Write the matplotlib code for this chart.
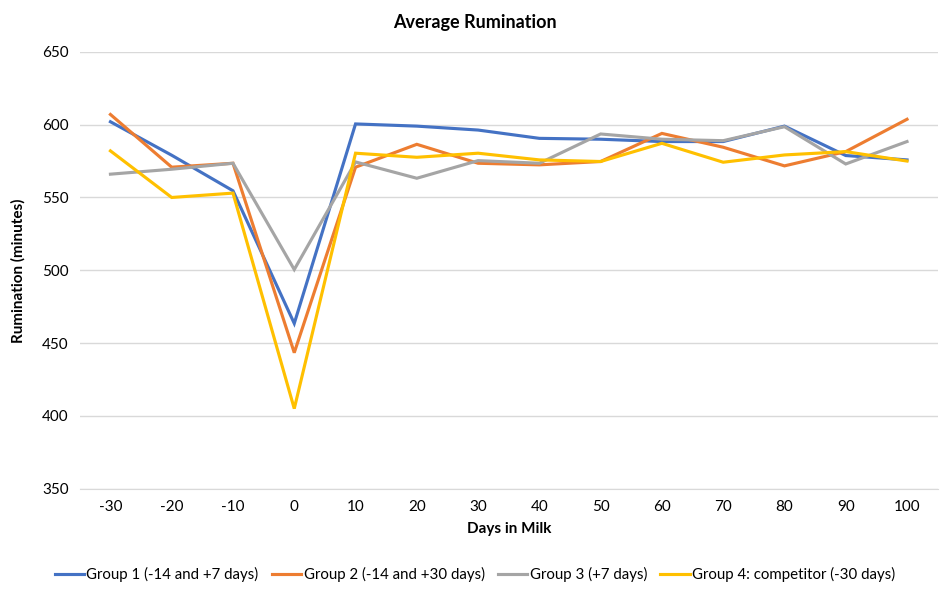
import matplotlib.pyplot as plt

plt.rcParams['font.family'] = ['Lato', 'DejaVu Sans']

days = ["-30", "-20", "-10", "0", "10", "20", "30", "40", "50", "60", "70", "80", "90", "100"]
group1 = [602, 579, 554.6, 463.5, 600.5, 599, 596.3, 590.6, 590, 588.4, 588.4, 599, 578.8, 575.8]
group2 = [607, 570.8, 573.5, 443.4, 570.8, 586.5, 573.5, 572.4, 574.7, 594, 584.5, 571.7, 581.5, 603.7]
group3 = [566, 569.4, 573.5, 500.5, 574.4, 563.2, 575.3, 573.5, 593.6, 590, 589, 598.6, 573, 588.4]
group4 = [582, 550, 553, 405, 580.4, 577.6, 580.4, 575.8, 574.7, 587.2, 574.2, 579.2, 581.5, 575]

labels = ["Group 1 (-14 and +7 days)", "Group 2 (-14 and +30 days)",
          "Group 3 (+7 days)", "Group 4: competitor (-30 days)"]
colors = ["#4472C4", "#ED7D31", "#A5A5A5", "#FFC000"]

fig = plt.figure(figsize=(9.5, 5.96), dpi=100)
ax = fig.add_axes([0.084, 0.18, 0.903, 0.733])

x = list(range(len(days)))
for series, lab, col in zip([group1, group2, group3, group4], labels, colors):
    ax.plot(x, series, color=col, linewidth=2.25, label=lab, solid_joinstyle="miter")

ax.set_xlim(-0.5, len(days) - 0.5)
ax.set_ylim(350, 650)
ax.set_yticks(range(350, 651, 50))
ax.set_xticks(x)
ax.set_xticklabels(days)
ax.grid(axis="y", color="#D9D9D9", linewidth=1)
ax.set_axisbelow(True)
for s in ["top", "right", "left"]:
    ax.spines[s].set_visible(False)
ax.spines["bottom"].set_color("#D9D9D9")
ax.tick_params(length=0, labelsize=11, pad=8)

fig.text(0.5, 0.963, "Average Rumination", fontsize=13, fontweight="bold", ha="center", va="center")
ax.set_xlabel("Days in Milk", fontsize=11, fontweight="bold", labelpad=6)
ax.set_ylabel("Rumination (minutes)", fontsize=11, fontweight="bold", labelpad=12)

fig.legend(loc="lower center", ncol=4, frameon=False, fontsize=10.8,
           bbox_to_anchor=(0.5, 0.0), handlelength=1.95, columnspacing=0.9, handletextpad=0.15)

fig.savefig("out.png", dpi=100)
